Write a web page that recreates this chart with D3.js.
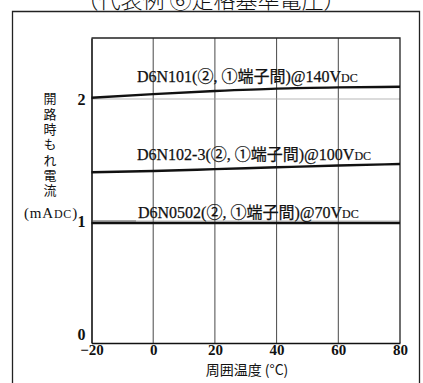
<!DOCTYPE html>
<html><head><meta charset="utf-8">
<script src="https://cdn.jsdelivr.net/npm/d3@7"></script>
<style>
body{margin:0;background:#fff;}
text{font-family:"Liberation Serif","DejaVu Serif","Noto Sans CJK JP",serif;fill:#111;}
</style></head>
<body>
<svg id="c" width="423" height="383"></svg>
<script>
const temps = [-20, 0, 20, 40, 60, 80];
const seriesNames = ["D6N101", "D6N102-3", "D6N0502"];
const seriesLabels = ["D6N101(②, ①端子間)@140V", "D6N102-3(②, ①端子間)@100V", "D6N0502(②, ①端子間)@70V"];
const d6n101 = [2.01, 2.04, 2.065, 2.085, 2.095, 2.10];
const d6n1023 = [1.40, 1.41, 1.425, 1.44, 1.455, 1.467];
const d6n0502 = [0.984, 0.984, 0.984, 0.984, 0.984, 0.984];
const xTicks = [-20, 0, 20, 40, 60, 80];
const xTickLabels = ["−20", "0", "20", "40", "60", "80"];
const yTicks = [0, 1, 2];
const yGrid = [1, 2];
const title = "（代表例 ⑥定格基準電圧）";
const yLabel = "開路時もれ電流";
const xLabel = "周囲温度 (°C)";

const svg = d3.select("#c");
const x = d3.scaleLinear().domain([-20, 80]).range([91.5, 400]);
const y = d3.scaleLinear().domain([0, 2.5]).range([343, 38]);

// outer frame
svg.append("path").attr("d","M12.5,390 V11.5 H419.5 V390")
  .attr("fill","none").attr("stroke","#222").attr("stroke-width",1.3);

// title (cut off at top, as in the reference)
svg.append("text").attr("x",211).attr("y",8).attr("text-anchor","middle")
  .style("font-size","22px").style("font-family","'Noto Sans CJK JP',sans-serif").style("font-weight","300")
  .text(title);

// vertical grid
svg.append("g").selectAll("line").data(xTicks.filter(t=>t>-20 && t<80)).join("line")
  .attr("x1",d=>x(d)).attr("x2",d=>x(d)).attr("y1",y(2.5)).attr("y2",y(0))
  .attr("stroke","#333").attr("stroke-width",0.9);
// horizontal grid
svg.append("g").selectAll("line").data(yGrid).join("line")
  .attr("x1",x(-20)).attr("x2",x(80)).attr("y1",d=>y(d)).attr("y2",d=>y(d))
  .attr("stroke","#999").attr("stroke-width",0.7);

// plot frame: top, right
svg.append("path").attr("d",`M${x(-20)},${y(2.5)} H${x(80)} V${y(0)}`)
  .attr("fill","none").attr("stroke","#222").attr("stroke-width",1.3);

// axes
const yAxis = svg.append("g").attr("transform",`translate(${x(-20)},0)`)
  .call(d3.axisLeft(y).tickValues(yTicks).tickSize(0).tickPadding(6).tickFormat(d3.format("d")));
yAxis.select(".domain").attr("stroke","#111").attr("stroke-width",1.6);
yAxis.selectAll("text").style("font-size","16px").style("font-weight","bold")
  .style("font-family","'Liberation Serif',serif")
  .attr("dy",(d)=> d===0 ? "-0.2em" : "0.32em");

const xAxis = svg.append("g").attr("transform",`translate(0,${y(0)})`)
  .call(d3.axisBottom(x).tickValues(xTicks).tickSize(0).tickPadding(1).tickFormat((d,i)=>xTickLabels[i]));
xAxis.select(".domain").attr("stroke","#111").attr("stroke-width",1.6);
xAxis.selectAll("text").style("font-size","15px").style("font-weight","bold")
  .style("font-family","'Liberation Serif',serif");

// lines
const line = d3.line().x((d,i)=>x(temps[i])).y(d=>y(d)).curve(d3.curveMonotoneX);
[d6n101, d6n1023, d6n0502].forEach(s=>{
  svg.append("path").datum(s).attr("d",line).attr("fill","none")
    .attr("stroke","#111").attr("stroke-width",2.4);
});

// series labels
const labelPos = [[137, 82], [137, 160], [138, 218]];
seriesLabels.forEach((t,i)=>{
  const tx = svg.append("text").attr("x",labelPos[i][0]).attr("y",labelPos[i][1])
    .style("font-size","16px").style("stroke","#111").style("stroke-width","0.25px");
  tx.append("tspan").text(t);
  tx.append("tspan").style("font-size","12px").style("stroke-width","0.15px").text("DC");
});
// leader line for D6N0502
svg.append("line").attr("x1",x(-20)).attr("x2",136).attr("y1",y(1)).attr("y2",y(1))
  .attr("stroke","#555").attr("stroke-width",0.8);

// y label vertical
svg.append("text").attr("x",50).attr("y",92)
  .style("writing-mode","vertical-rl").style("font-size","13px").style("letter-spacing","2.3px")
  .style("font-family","'Noto Sans CJK JP',sans-serif").text(yLabel);
const ul = svg.append("text").attr("x",51).attr("y",218).attr("text-anchor","middle")
  .style("font-size","15px").style("letter-spacing","0.8px");
ul.append("tspan").text("(mA");
ul.append("tspan").style("font-size","12px").text("DC");
ul.append("tspan").text(")");

// x label
svg.append("text").attr("x",247).attr("y",375).attr("text-anchor","middle")
  .style("font-size","14px").style("font-family","'Noto Sans CJK JP',sans-serif").text(xLabel);
</script>
</body></html>
